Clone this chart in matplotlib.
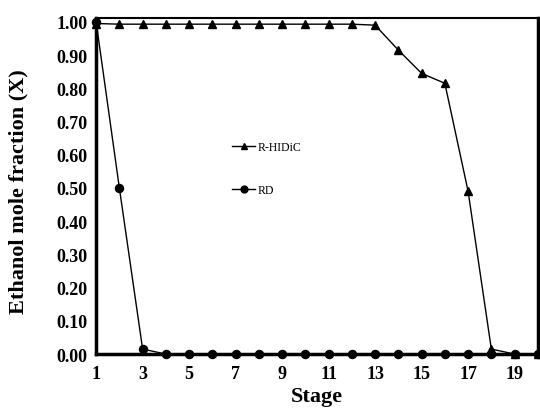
import matplotlib
matplotlib.use("Agg")
import matplotlib.pyplot as plt

stages = list(range(1, 21))
rhidic = [0.995, 0.993, 0.993, 0.993, 0.993, 0.993, 0.993, 0.993, 0.993, 0.993,
          0.993, 0.993, 0.99, 0.915, 0.845, 0.815, 0.49, 0.015, 0.0, 0.0]
rd = [1.0, 0.50, 0.015, 0.0, 0.0, 0.0, 0.0, 0.0, 0.0, 0.0,
      0.0, 0.0, 0.0, 0.0, 0.0, 0.0, 0.0, 0.0, 0.0, 0.0]
xticks = [1, 3, 5, 7, 9, 11, 13, 15, 17, 19]
yticks = [0.0, 0.1, 0.2, 0.3, 0.4, 0.5, 0.6, 0.7, 0.8, 0.9, 1.0]

plt.rcParams['font.family'] = ['Liberation Serif', 'DejaVu Serif']

fig = plt.figure(figsize=(5.4, 4.1), dpi=100)
ax = fig.add_axes([0.178, 0.134, 0.818, 0.820])

l1, = ax.plot(stages, rhidic, color='black', lw=1.0, marker='^', ms=5.5,
              label='R-HIDiC', zorder=3, clip_on=False)
l2, = ax.plot(stages, rd, color='black', lw=1.0, marker='o', ms=5.8,
              label='RD', zorder=4, clip_on=False)

ax.set_xlim(1, 20)
ax.set_ylim(0, 1.012)
ax.set_xticks(xticks)
ax.set_xticklabels([str(v) for v in xticks])
ax.set_yticks(yticks)
ax.set_yticklabels([f"{v:.2f}" for v in yticks])
ax.tick_params(length=0, labelsize=13)
ax.tick_params(axis='x', pad=8)
ax.tick_params(axis='y', pad=6)
for lab in ax.get_xticklabels() + ax.get_yticklabels():
    lab.set_fontweight('bold')

ax.set_xlabel('Stage', fontsize=16, fontweight='bold')
ax.set_ylabel('Ethanol mole fraction (X)', fontsize=16, fontweight='bold')
ax.xaxis.set_label_coords(0.5, -0.095)
ax.yaxis.set_label_coords(-0.152, 0.485)

ax.spines['left'].set_linewidth(2.5)
ax.spines['bottom'].set_linewidth(2.5)
ax.spines['right'].set_linewidth(2.5)
ax.spines['top'].set_linewidth(1.5)

leg = ax.legend(handles=[l1, l2], loc='upper left', bbox_to_anchor=(0.283, 0.665),
                frameon=False, fontsize=8.5, labelspacing=2.6, handlelength=2.0,
                handletextpad=0.15, markerscale=0.85)

fig.savefig('out.png', dpi=100)
